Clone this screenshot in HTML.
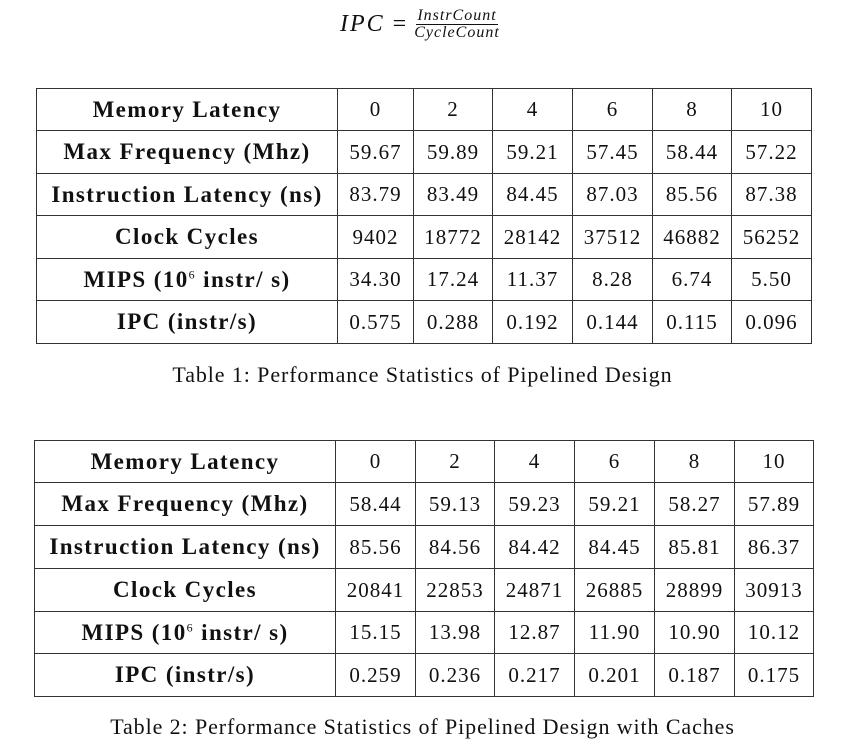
<!DOCTYPE html>
<html><head><meta charset="utf-8"><style>
body{margin:0;width:845px;height:755px;background:#fff;position:relative;font-family:"Liberation Serif",serif;color:#111;overflow:hidden}
table{position:absolute;border-collapse:collapse;table-layout:fixed}
td{border:1.3px solid #333;text-align:center;vertical-align:middle;padding:0;font-size:21px;white-space:nowrap;letter-spacing:1px}
td.h{font-weight:bold;font-size:23px;letter-spacing:1.4px}
.cap{position:absolute;left:0;width:845px;text-align:center;font-size:22px;letter-spacing:0.9px}
sup{font-size:12px;font-weight:normal}
</style></head><body>
<div style="position:absolute;left:340px;top:8px;font-style:italic;font-size:24px;display:flex;align-items:center">
<span style="letter-spacing:2px">IPC</span><span style="font-style:normal;margin:0 8px">=</span>
<span style="display:inline-flex;flex-direction:column;align-items:center;font-size:16px;line-height:16px;letter-spacing:1px">
<span style="border-bottom:1px solid #111;padding:0 1px">InstrCount</span><span>CycleCount</span></span></div>

<table style="left:36px;top:88px;width:775px">
<colgroup><col style="width:301px"><col style="width:76px"><col style="width:79px"><col style="width:80px"><col style="width:80px"><col style="width:79px"><col style="width:80px"></colgroup>
<tr style="height:42px"><td class="h">Memory Latency</td><td>0</td><td>2</td><td>4</td><td>6</td><td>8</td><td>10</td></tr>
<tr style="height:43px"><td class="h">Max Frequency (Mhz)</td><td>59.67</td><td>59.89</td><td>59.21</td><td>57.45</td><td>58.44</td><td>57.22</td></tr>
<tr style="height:42px"><td class="h">Instruction Latency (ns)</td><td>83.79</td><td>83.49</td><td>84.45</td><td>87.03</td><td>85.56</td><td>87.38</td></tr>
<tr style="height:43px"><td class="h">Clock Cycles</td><td>9402</td><td>18772</td><td>28142</td><td>37512</td><td>46882</td><td>56252</td></tr>
<tr style="height:42px"><td class="h">MIPS (10<sup>6</sup> instr/ s)</td><td>34.30</td><td>17.24</td><td>11.37</td><td>8.28</td><td>6.74</td><td>5.50</td></tr>
<tr style="height:43px"><td class="h">IPC (instr/s)</td><td>0.575</td><td>0.288</td><td>0.192</td><td>0.144</td><td>0.115</td><td>0.096</td></tr>
</table>
<div class="cap" style="top:362px">Table 1: Performance Statistics of Pipelined Design</div>

<table style="left:34px;top:440px;width:779px">
<colgroup><col style="width:301px"><col style="width:80px"><col style="width:79px"><col style="width:80px"><col style="width:80px"><col style="width:80px"><col style="width:79px"></colgroup>
<tr style="height:42px"><td class="h">Memory Latency</td><td>0</td><td>2</td><td>4</td><td>6</td><td>8</td><td>10</td></tr>
<tr style="height:43px"><td class="h">Max Frequency (Mhz)</td><td>58.44</td><td>59.13</td><td>59.23</td><td>59.21</td><td>58.27</td><td>57.89</td></tr>
<tr style="height:43px"><td class="h">Instruction Latency (ns)</td><td>85.56</td><td>84.56</td><td>84.42</td><td>84.45</td><td>85.81</td><td>86.37</td></tr>
<tr style="height:43px"><td class="h">Clock Cycles</td><td>20841</td><td>22853</td><td>24871</td><td>26885</td><td>28899</td><td>30913</td></tr>
<tr style="height:42px"><td class="h">MIPS (10<sup>6</sup> instr/ s)</td><td>15.15</td><td>13.98</td><td>12.87</td><td>11.90</td><td>10.90</td><td>10.12</td></tr>
<tr style="height:43px"><td class="h">IPC (instr/s)</td><td>0.259</td><td>0.236</td><td>0.217</td><td>0.201</td><td>0.187</td><td>0.175</td></tr>
</table>
<div class="cap" style="top:714px">Table 2: Performance Statistics of Pipelined Design with Caches</div>
</body></html>
